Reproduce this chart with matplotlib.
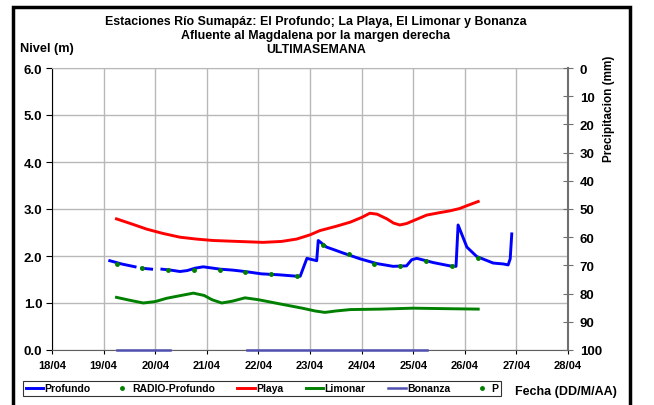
import numpy as np
import matplotlib
matplotlib.use('Agg')
from matplotlib import pyplot as plt
from matplotlib.patches import Rectangle

nan = np.nan

# Fechas en dias de abril (18 = 18/04)
profundo_x = [19.12, 19.35, 19.61, nan, 19.74, 19.93, nan, 20.13, 20.30, 20.48, 20.62, 20.77, 20.93,
              21.26, 21.50, 21.74, 22.06, 22.40, 22.74, 22.81, 22.94, 23.13, 23.16, 23.32, 23.50,
              23.65, 23.97, 24.29, 24.61, 24.87, 24.97, 25.07, 25.39, 25.71, 25.83, 25.87, 26.04,
              26.23, 26.55, 26.75, 26.84, 26.88, 26.91]
profundo_y = [1.90, 1.83, 1.77, nan, 1.74, 1.72, nan, 1.72, 1.70, 1.67, 1.69, 1.74, 1.77,
              1.72, 1.70, 1.67, 1.62, 1.60, 1.57, 1.57, 1.95, 1.90, 2.33, 2.19, 2.12,
              2.06, 1.94, 1.84, 1.78, 1.79, 1.92, 1.95, 1.86, 1.79, 1.78, 2.66, 2.19,
              1.99, 1.85, 1.83, 1.81, 1.94, 2.47]

radio_x = [19.25, 19.75, 20.25, 20.75, 21.25, 21.75, 22.25, 22.75, 23.25, 23.75, 24.25,
           24.75, 25.25, 25.75, 26.25]
radio_y = [1.84, 1.75, 1.70, 1.70, 1.71, 1.67, 1.61, 1.57, 2.24, 2.04, 1.84,
           1.78, 1.89, 1.79, 1.96]

playa_x = [19.25, 19.55, 19.84, 20.15, 20.48, 20.80, 21.12, 21.60, 22.09, 22.45, 22.74,
           23.00, 23.19, 23.50, 23.78, 24.00, 24.16, 24.30, 24.49, 24.62, 24.74, 24.87,
           25.00, 25.26, 25.50, 25.71, 25.90, 26.04, 26.26]
playa_y = [2.79, 2.68, 2.57, 2.48, 2.40, 2.36, 2.33, 2.31, 2.29, 2.31, 2.36,
           2.45, 2.54, 2.63, 2.72, 2.82, 2.91, 2.89, 2.79, 2.70, 2.66, 2.69,
           2.75, 2.87, 2.92, 2.96, 3.01, 3.07, 3.16]

limonar_x = [19.25, 19.50, 19.77, 20.00, 20.22, 20.50, 20.74, 20.95, 21.10, 21.29, 21.50,
             21.74, 22.00, 22.42, 22.85, 23.10, 23.29, 23.50, 23.78, 24.36, 25.00, 25.60, 26.26]
limonar_y = [1.12, 1.06, 1.00, 1.03, 1.10, 1.16, 1.21, 1.16, 1.07, 1.00, 1.04,
             1.11, 1.07, 0.98, 0.89, 0.83, 0.80, 0.83, 0.86, 0.87, 0.89, 0.88, 0.87]

bonanza_x = [19.26, 20.29, nan, 21.78, 25.27]
bonanza_y = [0.0, 0.0, nan, 0.0, 0.0]

# Precipitacion: sin datos en la semana
p_x = []
p_y = []

dias = list(range(18, 29))
etiquetas = [f'{d}/04' for d in dias]

plt.rcParams['font.family'] = ['Liberation Sans', 'DejaVu Sans']
plt.rcParams['font.weight'] = 'bold'

fig = plt.figure(figsize=(6.54, 4.06), dpi=100)
fig.patches.append(Rectangle((13 / 654, -0.01), (630 - 13) / 654, 1 - 8 / 406 + 0.01,
                             transform=fig.transFigure, fill=False, edgecolor='black',
                             linewidth=2.5, zorder=0))

ax = fig.add_axes([52 / 654, 1 - 351 / 406, (568 - 52) / 654, (351 - 69) / 406])
ax2 = ax.twinx()

ax.set_xlim(18, 28)
ax.set_ylim(0, 6)
ax.set_xticks(dias)
ax.set_xticklabels(etiquetas, fontsize=8, fontweight='bold')
ax.set_yticks(np.arange(0, 6.1, 1.0))
ax.set_yticklabels([f'{v:.1f}' for v in np.arange(0, 6.1, 1.0)], fontsize=9.5, fontweight='bold')
ax.grid(True, color='#b8b8b8', linewidth=1.0)
ax.set_axisbelow(True)
ax.spines['top'].set_color('#b8b8b8')
ax.spines['left'].set_color('black')
ax.spines['bottom'].set_color('#606060')
ax.spines['right'].set_visible(False)
ax.tick_params(axis='y', length=4, color='black', pad=3)
ax.tick_params(axis='x', length=3, color='black', pad=4)

l1, = ax.plot(profundo_x, profundo_y, color='#0000ff', linewidth=2.1, label='Profundo', zorder=3)
l2, = ax.plot(radio_x, radio_y, linestyle='none', marker='o', markersize=2.5, color='#008000',
              label='RADIO-Profundo', zorder=4)
l3, = ax.plot(playa_x, playa_y, color='#ff0000', linewidth=2.1, label='Playa', zorder=3)
l4, = ax.plot(limonar_x, limonar_y, color='#008000', linewidth=2.1, label='Limonar', zorder=3)
l5, = ax.plot(bonanza_x, bonanza_y, color='#5050b0', linewidth=1.8, label='Bonanza', zorder=3,
              clip_on=False)
l6, = ax2.plot(p_x, p_y, linestyle='none', marker='o', markersize=2.5, color='#008000', label='P')

ax2.set_ylim(100, 0)
ax2.set_yticks(range(0, 101, 10))
ax2.set_yticklabels([str(v) for v in range(0, 101, 10)], fontsize=9.5, fontweight='bold')
ax2.spines['right'].set_color('#707070')
ax2.spines['right'].set_linewidth(1.5)
for s in ['top', 'left', 'bottom']:
    ax2.spines[s].set_visible(False)
ax2.tick_params(axis='y', direction='inout', length=7, color='#707070', pad=5)

fig.text(316 / 654, 1 - 22 / 406, 'Estaciones Río Sumapáz: El Profundo; La Playa, El Limonar y Bonanza',
         ha='center', va='center', fontsize=8.9, fontweight='bold')
fig.text(316 / 654, 1 - 36 / 406, 'Afluente al Magdalena por la margen derecha',
         ha='center', va='center', fontsize=8.9, fontweight='bold')
fig.text(316 / 654, 1 - 50 / 406, 'ULTIMASEMANA',
         ha='center', va='center', fontsize=8.9, fontweight='bold')
fig.text(20 / 654, 1 - 49 / 406, 'Nivel (m)', ha='left', va='center', fontsize=9.2, fontweight='bold')
fig.text(609 / 654, 1 - 109 / 406, 'Precipitacion (mm)', ha='center', va='center', rotation=90,
         fontsize=8.5, fontweight='bold')
fig.text(566 / 654, 1 - 392 / 406, 'Fecha (DD/M/AA)', ha='center', va='center', fontsize=9,
         fontweight='bold')

leg = fig.legend(handles=[l1, l2, l3, l4, l5, l6], loc='lower left',
                 bbox_to_anchor=(23 / 654, 1 - 397 / 406, (501 - 23) / 654, 17 / 406),
                 mode='expand', ncol=6, fontsize=7.5, frameon=True, fancybox=False,
                 edgecolor='black', handlelength=1.7, handletextpad=0.1, columnspacing=0.6,
                 borderpad=0.25, borderaxespad=0)
leg.get_frame().set_linewidth(0.8)

fig.savefig('out.png', dpi=100)
